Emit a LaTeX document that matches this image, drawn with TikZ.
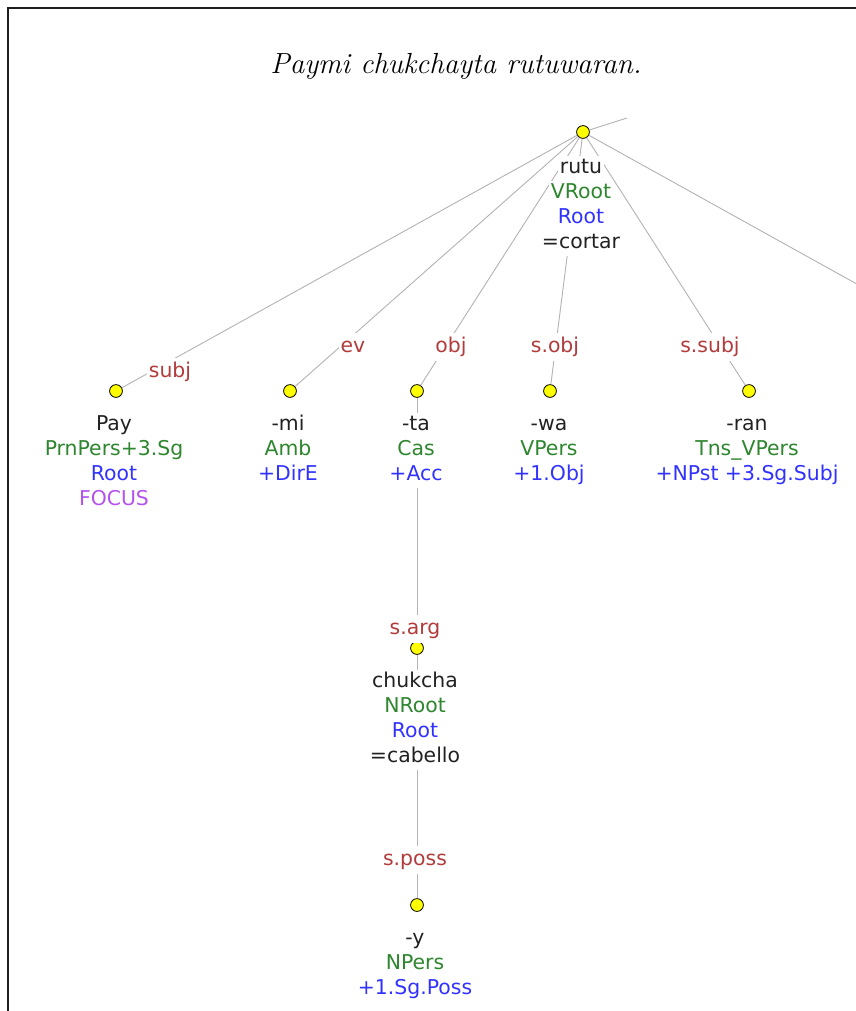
\documentclass[tikz,border=0pt]{standalone}
\usepackage{fontspec}
\usepackage{xcolor}
\usepackage{tikz}
\usetikzlibrary{positioning}
\newfontfamily\treefont{DejaVu Sans}
\definecolor{wordblack}{HTML}{222222}
\definecolor{catgreen}{HTML}{2E862E}
\definecolor{tagblue}{HTML}{3232FF}
\definecolor{relred}{HTML}{B23C3C}
\definecolor{focuspurple}{HTML}{B552EE}
\definecolor{linkgray}{HTML}{B4B4B4}
\definecolor{dotyellow}{HTML}{FFFF00}
\definecolor{framegray}{HTML}{1E1E1E}
% one line of a morpheme block, on its own white strip
\newcommand{\mline}[2]{{\setlength{\fboxsep}{0pt}\colorbox{white}{\hspace{1.5pt}\strut\textcolor{#1}{#2}\hspace{1.5pt}}}}
\tikzset{
    morphdot/.style={circle, draw=black, line width=0.6pt, fill=dotyellow, minimum size=9.6pt, inner sep=0pt},
    morphtext/.style={anchor=north, align=center, inner sep=0pt, font={\treefont\fontsize{15.3}{18.75}\selectfont}},
    deplabel/.style={anchor=base, fill=white, text=relred, inner xsep=1.5pt, inner ysep=1pt, text height=13pt, text depth=5.5pt, font={\treefont\fontsize{15.3}{18.75}\selectfont}},
    deplink/.style={draw=linkgray, line width=0.7pt}
}

\begin{document}
\begin{tikzpicture}[x=0.75pt, y=-0.75pt]
        \useasboundingbox (0,0) rectangle (856,1011);
        \clip (0,0) rectangle (856,1011);
        \draw[line width=1.2pt, framegray] (7.8,1030) -- (7.8,7.8) -- (880,7.8);

        % Sentence
        \node[font={\fontsize{21.8}{26}\selectfont\itshape}, anchor=base] at (456,73) (title) {Paymi chukchayta rutuwaran.};

        % Dots
        \node[morphdot] at (583,132) (root) {};
        \foreach \nm/\x in {pay/116, mi/290, ta/417, wa/550, ran/749} {
            \node[morphdot] at (\x,391) (\nm) {};
        }
        \node[morphdot] at (417,648) (chukcha) {};
        \node[morphdot] at (417,905) (ysuf) {};
        \coordinate (upend) at (627,118);
        \coordinate (rightend) at (900,308);

        % Links
        \foreach \nm in {pay, mi, ta, wa, ran} {
            \draw[deplink] (root) -- (\nm);
        }
        \draw[deplink] (root) -- (upend);
        \draw[deplink] (root) -- (rightend);
        \draw[deplink] (ta) -- (chukcha);
        \draw[deplink] (chukcha) -- (ysuf);

        % Morpheme blocks
        \node[morphtext] at (581,155.5) (roottxt) {\mline{wordblack}{rutu}\\\mline{catgreen}{VRoot}\\\mline{tagblue}{Root}\\\mline{wordblack}{=cortar}};
        \node[morphtext] at (114,412.5) (paytxt) {\mline{wordblack}{Pay}\\\mline{catgreen}{PrnPers+3.Sg}\\\mline{tagblue}{Root}\\\mline{focuspurple}{FOCUS}};
        \node[morphtext] at (288,412.5) (mitxt) {\mline{wordblack}{-mi}\\\mline{catgreen}{Amb}\\\mline{tagblue}{+DirE}};
        \node[morphtext] at (416,412.5) (tatxt) {\mline{wordblack}{-ta}\\\mline{catgreen}{Cas}\\\mline{tagblue}{+Acc}};
        \node[morphtext] at (549,412.5) (watxt) {\mline{wordblack}{-wa}\\\mline{catgreen}{VPers}\\\mline{tagblue}{+1.Obj}};
        \node[morphtext] at (747,412.5) (rantxt) {\mline{wordblack}{-ran}\\\mline{catgreen}{Tns\_VPers}\\\mline{tagblue}{+NPst +3.Sg.Subj}};
        \node[morphtext] at (415,669.5) (chukchatxt) {\mline{wordblack}{chukcha}\\\mline{catgreen}{NRoot}\\\mline{tagblue}{Root}\\\mline{wordblack}{=cabello}};
        \node[morphtext] at (415,926.5) (ysuftxt) {\mline{wordblack}{-y}\\\mline{catgreen}{NPers}\\\mline{tagblue}{+1.Sg.Poss}};

        % Relation labels
        \node[deplabel] at (170,377) (lsubj) {subj};
        \node[deplabel] at (353,352) (lev) {ev};
        \node[deplabel] at (451,352) (lobj) {obj};
        \node[deplabel] at (555,352) (lsobj) {s.obj};
        \node[deplabel] at (710,352) (lssubj) {s.subj};
        \node[deplabel] at (415,634) (lsarg) {s.arg};
        \node[deplabel] at (415,865) (lsposs) {s.poss};

    \end{tikzpicture}
\end{document}
